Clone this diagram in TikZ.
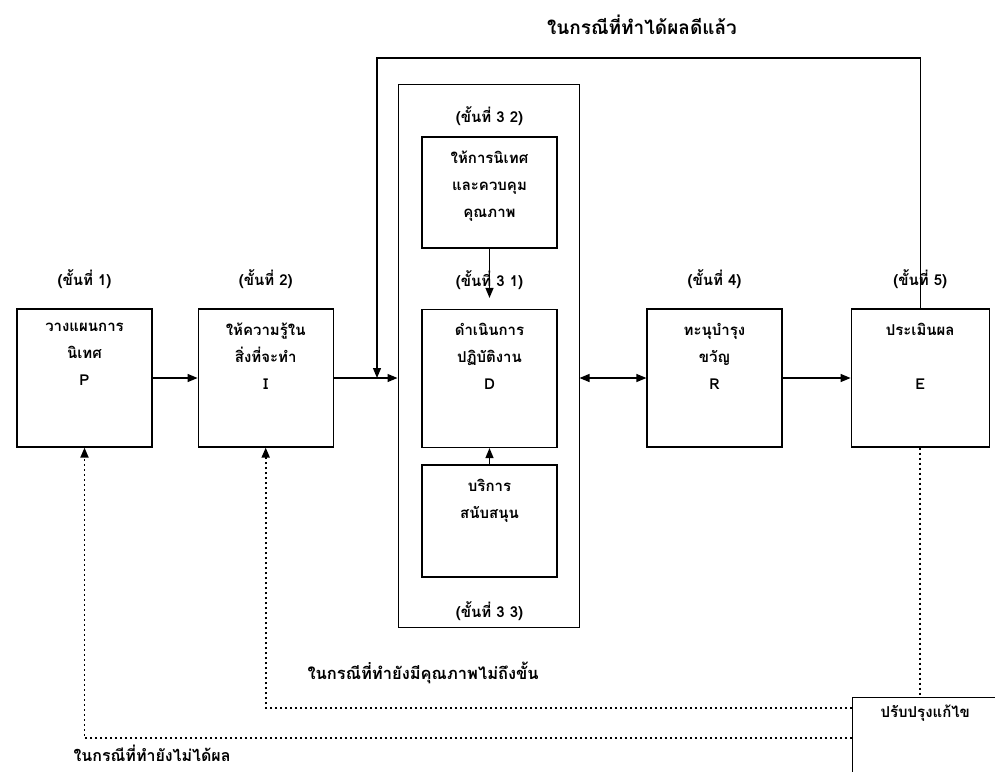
\documentclass[tikz,border=0pt]{standalone}
\usepackage{fontspec}
\newfontfamily\thai[Script=Thai]{Loma}
\usetikzlibrary{arrows.meta,positioning}

\begin{document}
\begin{tikzpicture}[->,>={Triangle[length=10pt,width=8pt]},x=1pt,y=-1pt,
                    line width=1.2pt,font=\thai\bfseries\fontsize{15}{27}\selectfont]
  \tikzstyle{stage}=[draw,minimum width=135pt,minimum height=138pt,inner sep=0pt]
  \tikzstyle{sub}=[draw,minimum width=135pt,minimum height=111pt,inner sep=0pt]
  \tikzstyle{txt}=[align=center,inner sep=0pt]
  \tikzstyle{stepname}=[inner sep=0pt]
  \tikzstyle{feedback}=[dash pattern=on 2pt off 3pt,line width=1.8pt]

  \useasboundingbox (0,0) rectangle (995,771);

  \node[stage]                      (P)     at (84.5,378)   {};
  \node[stage]                      (I)     [right=45pt of P] {};
  \node[draw,line width=1pt,minimum width=181pt,minimum height=543pt]
                                    (frame) at (488.5,355.5) {};
  \node[sub]                        (B32)   at (489.5,192.5) {};
  \node[stage]                      (D)     at (489.5,378.5) {};
  \node[sub,minimum height=112pt]   (B33)   at (489.5,521)   {};
  \node[stage]                      (R)     at (714.5,378)   {};
  \node[stage,minimum width=138pt]  (E)     [right=68pt of R] {};
  \node[draw,minimum width=170pt,minimum height=100pt,anchor=north west]
                                    (fix)   at (852,697)     {};

  % step numbers
  \node[stepname,above=19pt of P]   (Pstep)   {(ขั้นที่ 1)};
  \node[stepname,above=19pt of I]   (Istep)   {(ขั้นที่ 2)};
  \node[stepname,above=10pt of B32] (B32step) {(ขั้นที่ 3 2)};
  \node[stepname,above=19pt of D]   (Dstep)   {(ขั้นที่ 3 1)};
  \node[stepname,below=23pt of B33] (B33step) {(ขั้นที่ 3 3)};
  \node[stepname,above=19pt of R]   (Rstep)   {(ขั้นที่ 4)};
  \node[stepname,above=19pt of E]   (Estep)   {(ขั้นที่ 5)};

  % box texts
  \node[txt,below=14pt of P.north]   (Ptxt)   {วางแผนการ\\นิเทศ\\P};
  \node[txt,below=14pt of I.north]   (Itxt)   {ให้ความรู้ใน\\สิ่งที่จะทำ\\I};
  \node[txt,below=14pt of B32.north] (B32txt) {ให้การนิเทศ\\และควบคุม\\คุณภาพ};
  \node[txt,below=14pt of D.north]   (Dtxt)   {ดำเนินการ\\ปฏิบัติงาน\\D};
  \node[txt,below=14pt of B33.north] (B33txt) {บริการ\\สนับสนุน};
  \node[txt,below=14pt of R.north]   (Rtxt)   {ทะนุบำรุง\\ขวัญ\\R};
  \node[txt,below=14pt of E.north]   (Etxt)   {ประเมินผล\\[27pt]E};
  \node[stepname,anchor=west]        (fixtxt)   at (880,713) {ปรับปรุงแก้ไข};

  % case notes
  \node[stepname,font=\thai\bfseries\fontsize{19}{22}\selectfont]
                                     (okcase)   at (642,25)  {ในกรณีที่ทำได้ผลดีแล้ว};
  \node[stepname,anchor=west,font=\thai\bfseries\fontsize{16.5}{20}\selectfont]
                                     (lowcase)  at (307,673) {ในกรณีที่ทำยังมีคุณภาพไม่ถึงขั้น};
  \node[stepname,anchor=west,font=\thai\bfseries\fontsize{16}{20}\selectfont]
                                     (failcase) at (73,753)  {ในกรณีที่ทำยังไม่ได้ผล};

  \coordinate (topL) at (377,58);
  \coordinate (fbI)  at (263,708);
  \coordinate (fbP)  at (84,738);

  \path (P)   edge                   (I)
        (B32) edge [shorten >=11pt]  (D)
        (B33) edge                   (D)
        (R)   edge                   (E);
  \draw (I.east) -- (I.east -| frame.west);
  \draw (E.north) |- (topL) -- (topL |- I.east);
  \draw[<->] (frame.east |- R.west) -- (R.west);
  \draw[feedback,-] (E.south) -- (E.south |- fix.north);
  \draw[feedback] (fix.west |- fbI) -| (I.south);
  \draw[feedback] (fix.west |- fbP) -| (P.south);
\end{tikzpicture}
\end{document}
